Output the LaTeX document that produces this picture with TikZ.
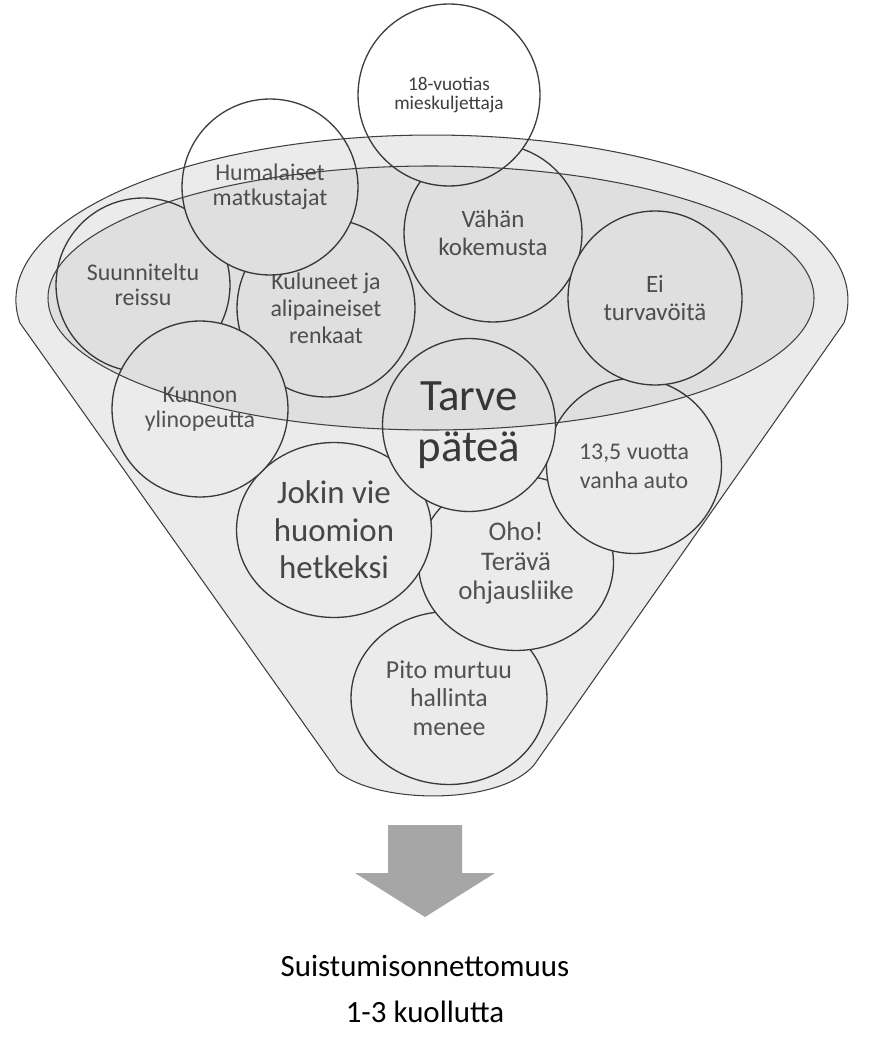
\documentclass[tikz,border=0pt]{standalone}
\usepackage{fontspec}
\setmainfont{Carlito}
\usetikzlibrary{shapes.geometric}
\definecolor{rim}{HTML}{3F3F3F}
\definecolor{txt}{HTML}{595959}
\definecolor{arrowgray}{HTML}{A6A6A6}
\newcommand{\fsz}[2]{\fontsize{#1}{#2}\selectfont}

\begin{document}
\begin{tikzpicture}[
        x=0.02cm, y=-0.02cm,
        bubble/.style={circle, draw=rim, line width=0.75pt, fill=white, inner sep=0pt, align=center, text=txt, font=\fsz{13.6}{14.2}},
        oval/.style={ellipse, draw=rim, line width=0.75pt, fill=white, inner sep=0pt, align=center, text=txt},
        funnel/.style={fill=black, fill opacity=0.08, draw=rim, line width=0.6pt},
        rimfill/.style={fill=black, fill opacity=0.05, draw=rim, line width=0.6pt},
        result/.style={align=center, text=black, font=\fsz{17.6}{26.6}}
    ]
    \useasboundingbox (0,0) rectangle (877,1037);

    \node[oval, minimum width=3.92cm, minimum height=3.46cm, font=\fsz{14.7}{16.2}] (grip) at (449,698) {Pito murtuu\\hallinta\\menee};
    \node[oval, minimum width=3.9cm, minimum height=3.5cm, font=\fsz{15.3}{17}] (jerk) at (516,563) {Oho!\\Terävä\\ohjausliike};
    \node[oval, minimum width=3.9cm, minimum height=3.5cm, font=\fsz{18.7}{21.3}, text=txt!85!black] (distract) at (334,530) {Jokin vie\\huomion\\hetkeksi};
    \node[bubble, minimum size=3.5cm, font=\fsz{13.6}{16.4}] (oldcar) at (634,466) {13,5 vuotta\\vanha auto};
    \node[bubble, minimum size=3.46cm, font=\fsz{25.5}{29}, text=txt!70!black] (show) at (469,425) {Tarve\\päteä};
    \node[bubble, minimum size=3.48cm] (trip) at (143,285) {Suunniteltu\\reissu};
    \node[bubble, minimum size=3.56cm, font=\fsz{13.6}{15.3}] (tyres) at (326,308) {Kuluneet ja\\alipaineiset\\renkaat};
    \node[bubble, minimum size=3.52cm] (speed) at (200,409) {Kunnon\\ylinopeutta};
    \node[bubble, minimum size=3.52cm] (drunk) at (270,187) {Humalaiset\\matkustajat};
    \node[bubble, minimum size=3.56cm, font=\fsz{14.2}{15.9}] (novice) at (493,233) {Vähän\\kokemusta};
    \node[bubble, minimum size=3.48cm, font=\fsz{14.2}{15.9}] (belts) at (655,298) {Ei\\turvavöitä};
    \node[bubble, minimum size=3.64cm, font=\fsz{11}{11.3}, text=txt!70!black] (driver) at (449,95) {18-vuotias\\mieskuljettaja};

    \path[funnel] (20,323) arc[start angle=172, end angle=368, x radius=416, y radius=165]
        -- (534,765) .. controls (500,805) and (380,805) .. (338,772) -- cycle;
    \path[rimfill] (431,298) ellipse[x radius=383, y radius=132];

    \fill[arrowgray] (388,825) -- (462,825) -- (462,873) -- (495,873) -- (425,917) -- (355,873) -- (388,873) -- cycle;
    \node[result] (crash) at (425,989) {Suistumisonnettomuus\\1-3 kuollutta};
\end{tikzpicture}
\end{document}
